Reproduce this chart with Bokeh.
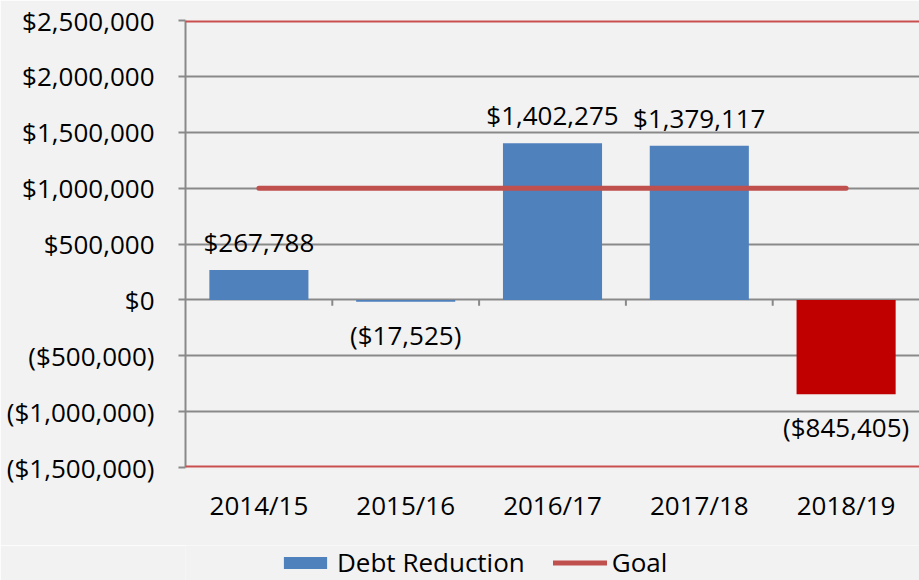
from bokeh.plotting import figure
from bokeh.layouts import column
from bokeh.models import (ColumnDataSource, LabelSet, Span, Legend, LegendItem,
                          FixedTicker, Range1d)
from bokeh.core.properties import value
from bokeh.transform import dodge
from bokeh.embed import file_html
from bokeh.resources import INLINE

# ---- data ----
categories = ["2014/15", "2015/16", "2016/17", "2017/18", "2018/19"]
debt_reduction = [267788, -17525, 1402275, 1379117, -845405]
goal = [1000000, 1000000, 1000000, 1000000, 1000000]
y_ticks = [-1500000, -1000000, -500000, 0, 500000, 1000000, 1500000, 2000000, 2500000]
series_names = ["Debt Reduction", "Goal"]

# ---- style ----
FONT = "Open Sans"
FS = "26px"
BG = "#f2f2f2"
GRID = "#898989"
BLUE = "#4f81bd"
RED_BAR = "#c00000"
GOAL_RED = "#c0504d"
Y_MIN, Y_MAX = y_ticks[0], y_ticks[-1]


def money(v):
    return f"${v:,}" if v >= 0 else f"(${-v:,})"


bar_colors = [RED_BAR if i == len(categories) - 1 else BLUE for i in range(len(categories))]

src = ColumnDataSource(dict(cat=categories, val=debt_reduction, color=bar_colors))
pos_src = ColumnDataSource(dict(cat=[c for c, v in zip(categories, debt_reduction) if v >= 0],
                                val=[v for v in debt_reduction if v >= 0],
                                label=[money(v) for v in debt_reduction if v >= 0]))
neg_src = ColumnDataSource(dict(cat=[c for c, v in zip(categories, debt_reduction) if v < 0],
                                val=[v for v in debt_reduction if v < 0],
                                label=[money(v) for v in debt_reduction if v < 0]))

p = figure(x_range=categories, y_range=Range1d(Y_MIN, Y_MAX), width=919, height=545,
           output_backend="svg", toolbar_location=None,
           min_border_left=185, min_border_right=0, min_border_top=20, min_border_bottom=78,
           background_fill_color=BG, border_fill_color=BG, outline_line_color=None)

# grid
p.xgrid.grid_line_color = None
p.ygrid.ticker = FixedTicker(ticks=y_ticks)
p.ygrid.grid_line_color = GRID
p.ygrid.grid_line_width = 2

# red border lines top and bottom
for loc in (Y_MIN, Y_MAX):
    p.add_layout(Span(location=loc, dimension="width", line_color="#c94f4f", line_width=4))

# bars
bars = p.vbar(x="cat", top="val", bottom=0, width=0.675, source=src,
              fill_color="color", line_color=None)

# goal line
goal_src = ColumnDataSource(dict(cat=categories, goal=goal))
goal_line = p.line(x="cat", y="goal", source=goal_src, line_color=GOAL_RED,
                   line_width=5, line_cap="round")

# category boundary ticks on the zero line
tick_src = ColumnDataSource(dict(cat=categories[1:], y0=[0] * (len(categories) - 1),
                                 y1=[-0.013 * (Y_MAX - Y_MIN)] * (len(categories) - 1)))
p.segment(x0=dodge("cat", -0.5, range=p.x_range), x1=dodge("cat", -0.5, range=p.x_range),
          y0="y0", y1="y1", source=tick_src, line_color=GRID, line_width=2)

# value labels
p.add_layout(LabelSet(x="cat", y="val", text="label", source=pos_src,
                      text_align="center", text_baseline="alphabetic", y_offset=18,
                      text_font=value(FONT), text_font_size=value(FS), text_color="black"))
p.add_layout(LabelSet(x="cat", y="val", text="label", source=neg_src,
                      text_align="center", text_baseline="alphabetic", y_offset=-43,
                      text_font=value(FONT), text_font_size=value(FS), text_color="black"))

# axes
p.yaxis.ticker = FixedTicker(ticks=y_ticks)
p.yaxis.major_label_overrides = {t: money(t) for t in y_ticks}
p.yaxis.axis_line_color = GRID
p.yaxis.axis_line_width = 2
p.yaxis.major_tick_line_color = GRID
p.yaxis.major_tick_line_width = 2
p.yaxis.major_tick_out = 7
p.yaxis.major_tick_in = 0
p.yaxis.minor_tick_line_color = None
p.yaxis.major_label_standoff = 24
p.yaxis.major_label_text_font = FONT
p.yaxis.major_label_text_font_size = FS
p.yaxis.major_label_text_color = "black"

p.xaxis.axis_line_color = None
p.xaxis.major_tick_line_color = None
p.xaxis.minor_tick_line_color = None
p.xaxis.major_tick_out = 0
p.xaxis.major_tick_in = 0
p.xaxis.major_label_standoff = 19
p.xaxis.major_label_text_font = FONT
p.xaxis.major_label_text_font_size = FS
p.xaxis.major_label_text_color = "black"

# ---- legend strip (separate figure, proxies with the same styles) ----
lg = figure(width=919, height=35, x_range=Range1d(0, 1), y_range=Range1d(0, 1),
            x_axis_location=None, y_axis_location=None, toolbar_location=None,
            output_backend="svg", min_border=0, background_fill_color=BG,
            border_fill_color=BG, outline_line_color=None)
lg.xgrid.visible = False
lg.ygrid.visible = False
# zero-size proxies (nothing visible in the strip; only used for legend swatches)
leg_bar = lg.vbar(x=[0], top=[0], bottom=[0], width=0.0, fill_color=BLUE, line_color=None)
leg_line = lg.line(x=[0], y=[0], line_color=GOAL_RED, line_width=5, line_cap="round")

legend = Legend(items=[LegendItem(label=series_names[0], renderers=[leg_bar]),
                       LegendItem(label=series_names[1], renderers=[leg_line])],
                orientation="horizontal", location=(93, 0),
                label_text_font=FONT, label_text_font_size=FS, label_text_color="black",
                glyph_width=54, glyph_height=15, label_standoff=5, spacing=28,
                padding=0, margin=0, background_fill_alpha=0, border_line_color=None)
lg.add_layout(legend, "center")

layout = column(p, lg, spacing=0)
open("out.html", "w").write(file_html(layout, INLINE))
